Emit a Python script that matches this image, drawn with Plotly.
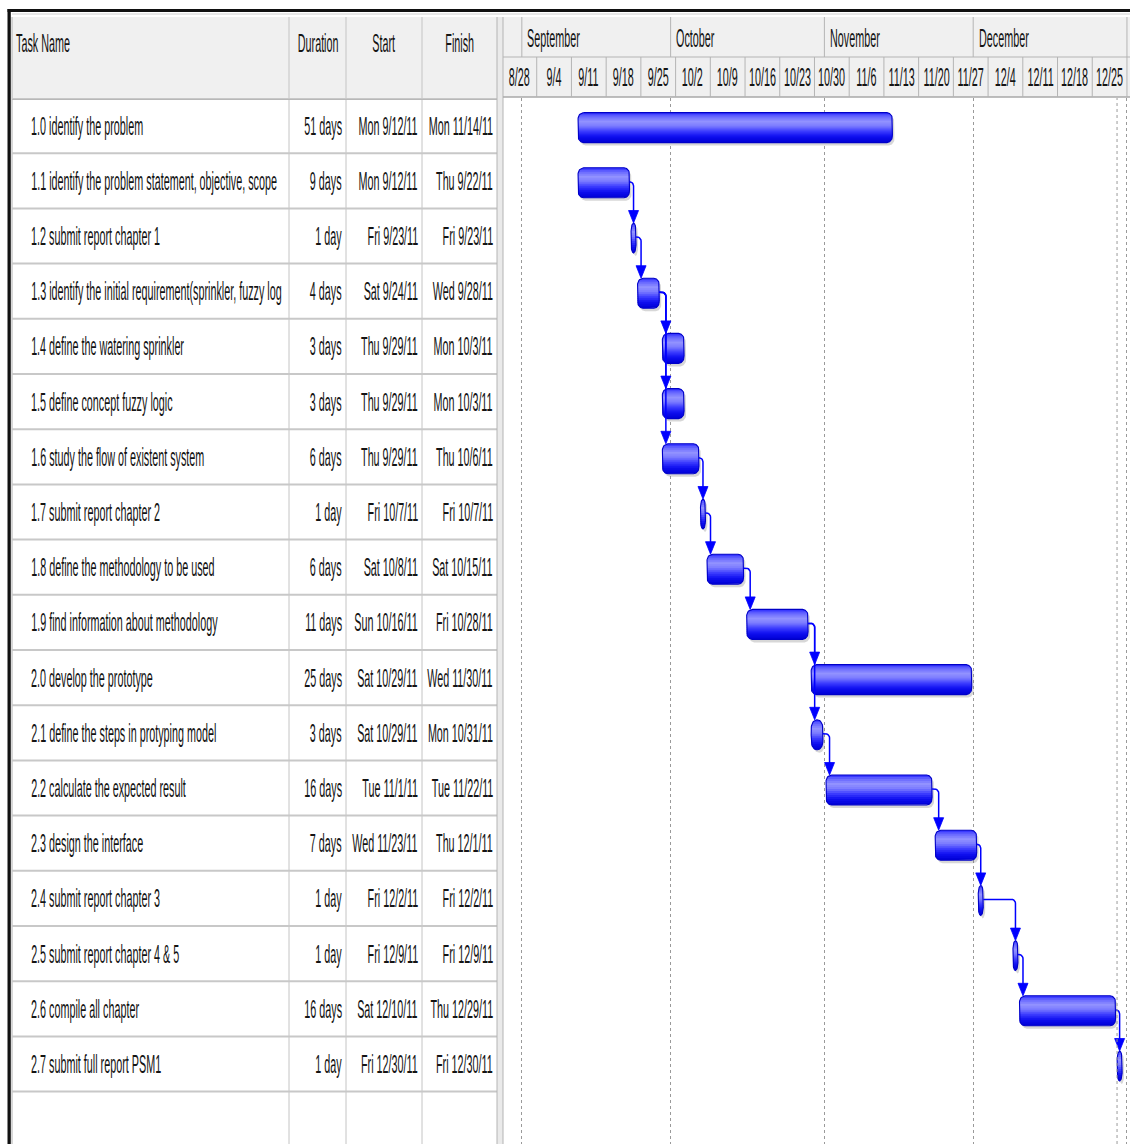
import json
import math
from datetime import datetime
import plotly.graph_objects as go

# ---------------- schedule data ----------------
task_names = [
    "1.0 identify the problem",
    "1.1 identify the problem statement, objective, scope",
    "1.2 submit report chapter 1",
    "1.3 identify the initial requirement(sprinkler, fuzzy log",
    "1.4 define the watering sprinkler",
    "1.5 define concept fuzzy logic",
    "1.6 study the flow of existent system",
    "1.7 submit report chapter 2",
    "1.8 define the methodology to be used",
    "1.9 find information about methodology",
    "2.0 develop the prototype",
    "2.1 define the steps in protyping model",
    "2.2 calculate the expected result",
    "2.3 design the interface",
    "2.4 submit report chapter 3",
    "2.5 submit report chapter 4 & 5",
    "2.6 compile all chapter",
    "2.7 submit full report PSM1",
]
durations = [
    "51 days", "9 days", "1 day", "4 days", "3 days", "3 days", "6 days", "1 day", "6 days",
    "11 days", "25 days", "3 days", "16 days", "7 days", "1 day", "1 day", "16 days", "1 day",
]
start_labels = [
    "Mon 9/12/11", "Mon 9/12/11", "Fri 9/23/11", "Sat 9/24/11", "Thu 9/29/11", "Thu 9/29/11",
    "Thu 9/29/11", "Fri 10/7/11", "Sat 10/8/11", "Sun 10/16/11", "Sat 10/29/11", "Sat 10/29/11",
    "Tue 11/1/11", "Wed 11/23/11", "Fri 12/2/11", "Fri 12/9/11", "Sat 12/10/11", "Fri 12/30/11",
]
finish_labels = [
    "Mon 11/14/11", "Thu 9/22/11", "Fri 9/23/11", "Wed 9/28/11", "Mon 10/3/11", "Mon 10/3/11",
    "Thu 10/6/11", "Fri 10/7/11", "Sat 10/15/11", "Fri 10/28/11", "Wed 11/30/11", "Mon 10/31/11",
    "Tue 11/22/11", "Thu 12/1/11", "Fri 12/2/11", "Fri 12/9/11", "Thu 12/29/11", "Fri 12/30/11",
]
start_dates = [
    "2011-09-12", "2011-09-12", "2011-09-23", "2011-09-24", "2011-09-29", "2011-09-29",
    "2011-09-29", "2011-10-07", "2011-10-08", "2011-10-16", "2011-10-29", "2011-10-29",
    "2011-11-01", "2011-11-23", "2011-12-02", "2011-12-09", "2011-12-10", "2011-12-30",
]
finish_dates = [
    "2011-11-14", "2011-09-22", "2011-09-23", "2011-09-28", "2011-10-03", "2011-10-03",
    "2011-10-06", "2011-10-07", "2011-10-15", "2011-10-28", "2011-11-30", "2011-10-31",
    "2011-11-22", "2011-12-01", "2011-12-02", "2011-12-09", "2011-12-29", "2011-12-30",
]
# finish-to-start links (predecessor row, successor row)
links = [
    (1, 2), (2, 3), (3, 4), (3, 5), (3, 6), (6, 7), (7, 8), (8, 9), (9, 10), (9, 11),
    (11, 12), (12, 13), (13, 14), (14, 15), (15, 16), (16, 17),
]
column_titles = ["Task Name", "Duration", "Start", "Finish"]
month_labels = ["September", "October", "November", "December"]
month_starts = ["2011-09-01", "2011-10-01", "2011-11-01", "2011-12-01", "2012-01-01"]
week_labels = ["8/28", "9/4", "9/11", "9/18", "9/25", "10/2", "10/9", "10/16", "10/23",
               "10/30", "11/6", "11/13", "11/20", "11/27", "12/4", "12/11", "12/18", "12/25"]
timeline_start = "2011-08-28"
marker_date = "2011-12-30"
WORK_START_H, WORK_END_H = 8, 17

# ---------------- page geometry ----------------
W, H = 1130, 1144
COL_EDGES = [12, 289, 346, 422, 497]
SPLIT_X0, SPLIT_X1 = 497, 503
GANTT_X0, GANTT_X1 = 502, 1130
HEADER_TOP, HEADER_MID, HEADER_BOTTOM = 17, 57, 98
ROW_H = 55.2
PX_PER_DAY = 4.96
BAR_HALF, BAR_DY, MIN_BAR_PX = 15.0, 2.0, 5.0
FONT = "Liberation Sans, Arial, sans-serif"
TXT = "#141414"
FS = 26
TEXT_SQUEEZE = 0.415   # tall, condensed look for the grid text

origin = datetime.fromisoformat(timeline_start)


def to_day(s, hour=0.0):
    return (datetime.fromisoformat(s) - origin).days + hour / 24.0


x_span = (GANTT_X1 - GANTT_X0) / PX_PER_DAY
rows_visible = (H - HEADER_BOTTOM) / ROW_H


def day_to_px(d):
    return GANTT_X0 + d * PX_PER_DAY


def px_to_day(p):
    return (p - GANTT_X0) / PX_PER_DAY


def py_to_row(p):
    return (p - HEADER_BOTTOM) / ROW_H


def row_to_py(r):
    return HEADER_BOTTOM + r * ROW_H


def px(p):
    return p / W


def py(p):
    return 1 - p / H


# ---------------- bar outlines ----------------
def inset(y, y0, y1, rx, ry):
    if y < y0 + ry:
        t = (y0 + ry - y) / ry
    elif y > y1 - ry:
        t = (y - (y1 - ry)) / ry
    else:
        return 0.0
    t = min(1.0, max(0.0, t))
    return rx * (1 - math.sqrt(1 - t * t))


def band(x0, x1, y0, y1, rx, ry, ya, yb, n=6, dx=0.0, dy=0.0):
    ys = [ya + (yb - ya) * k / (n - 1) for k in range(n)]
    left = [(x0 + inset(y, y0, y1, rx, ry) + dx, y + dy) for y in ys]
    right = [(x1 - inset(y, y0, y1, rx, ry) + dx, y + dy) for y in reversed(ys)]
    pts = left + right + [left[0]]
    return [px_to_day(a) for a, _ in pts], [py_to_row(b) for _, b in pts]


bars = []
for i in range(len(task_names)):
    x0 = day_to_px(to_day(start_dates[i], WORK_START_H))
    x1 = day_to_px(to_day(finish_dates[i], WORK_END_H))
    if x1 - x0 < MIN_BAR_PX:
        c = (x0 + x1) / 2
        x0, x1 = c - MIN_BAR_PX / 2, c + MIN_BAR_PX / 2
    yc = row_to_py(i + 0.5) + BAR_DY
    w = x1 - x0
    rx = min(5.5, w / 2)
    ry = 6.5 if w > 12 else 9.0
    bars.append((x0, x1, yc - BAR_HALF, yc + BAR_HALF, rx, ry))

grad_stops = [
    (0.00, (40, 40, 255)),
    (0.12, (100, 100, 255)),
    (0.30, (146, 146, 255)),
    (0.45, (124, 124, 255)),
    (0.62, (62, 62, 255)),
    (0.80, (14, 14, 240)),
    (1.00, (0, 0, 212)),
]


def grad(t):
    for (t0, c0), (t1, c1) in zip(grad_stops[:-1], grad_stops[1:]):
        if t0 <= t <= t1:
            f = (t - t0) / (t1 - t0)
            c = [round(a + (b - a) * f) for a, b in zip(c0, c1)]
            return "rgb(%d,%d,%d)" % tuple(c)
    return "rgb(0,0,212)"


fig = go.Figure()

# soft drop shadow
sx, sy = [], []
for (x0, x1, y0, y1, rx, ry) in bars:
    a, b = band(x0, x1, y0, y1, rx, ry, y0, y1, n=30, dx=2.0, dy=3.0)
    sx += a + [None]
    sy += b + [None]
fig.add_trace(go.Scatter(x=sx, y=sy, mode="lines", fill="toself",
                         fillcolor="rgba(110,110,110,0.28)", line=dict(width=0),
                         hoverinfo="skip", showlegend=False))

# gradient stripes
N_STRIPES = 15
for k in range(N_STRIPES):
    gx, gy = [], []
    for (x0, x1, y0, y1, rx, ry) in bars:
        h = y1 - y0
        ya = y0 + h * k / N_STRIPES
        yb = min(y1, y0 + h * (k + 1) / N_STRIPES + 0.7)
        a, b = band(x0, x1, y0, y1, rx, ry, ya, yb, n=5)
        gx += a + [None]
        gy += b + [None]
    fig.add_trace(go.Scatter(x=gx, y=gy, mode="lines", fill="toself",
                             fillcolor=grad((k + 0.5) / N_STRIPES), line=dict(width=0),
                             hoverinfo="skip", showlegend=False))

# bar outlines
ox, oy = [], []
for (x0, x1, y0, y1, rx, ry) in bars:
    a, b = band(x0, x1, y0, y1, rx, ry, y0, y1, n=40)
    ox += a + [None]
    oy += b + [None]
fig.add_trace(go.Scatter(x=ox, y=oy, mode="lines", line=dict(color="#0000c8", width=1.1),
                         hoverinfo="skip", showlegend=False))

# dependency connectors with arrowheads
ARROW_W, ARROW_H, BEND = 10.0, 12.5, 4.0
cx, cy, ax, ay = [], [], [], []
for p, s in links:
    p0, p1, q0, q1, _, _ = bars[p]
    s0, s1, t0, _, _, _ = bars[s]
    yline = (q0 + q1) / 2 - 1
    vx = s0 + min(3.5, (s1 - s0) / 2)
    if vx < p1 + 3:
        vx = p1 + 3
    pts = [(p1, yline), (vx - BEND, yline)]
    for j in range(1, 6):
        ang = (math.pi / 2) * j / 5
        pts.append((vx - BEND + BEND * math.sin(ang), yline + BEND * (1 - math.cos(ang))))
    pts.append((vx, t0 - ARROW_H + 1))
    cx += [px_to_day(a) for a, _ in pts] + [None]
    cy += [py_to_row(b) for _, b in pts] + [None]
    tri = [(vx - ARROW_W / 2, t0 - ARROW_H), (vx + ARROW_W / 2, t0 - ARROW_H), (vx, t0),
           (vx - ARROW_W / 2, t0 - ARROW_H)]
    ax += [px_to_day(a) for a, _ in tri] + [None]
    ay += [py_to_row(b) for _, b in tri] + [None]
fig.add_trace(go.Scatter(x=cx, y=cy, mode="lines", line=dict(color="#0000ff", width=1.5),
                         hoverinfo="skip", showlegend=False))
fig.add_trace(go.Scatter(x=ax, y=ay, mode="lines", fill="toself", fillcolor="#0000ff",
                         line=dict(color="#0000ff", width=0.8),
                         hoverinfo="skip", showlegend=False))

# ---------------- table, header and frame ----------------
shapes = []
ann = []
GRID = "#c4c4c4"


def rect(x0, y0, x1, y1, fill, line=None, layer="below"):
    shapes.append(dict(type="rect", xref="paper", yref="paper", x0=px(x0), x1=px(x1),
                       y0=py(y1), y1=py(y0), fillcolor=fill,
                       line=dict(width=0) if line is None else line, layer=layer))


def pline(x0, y0, x1, y1, color, width=1, dash=None, layer="below"):
    ln = dict(color=color, width=width)
    if dash:
        ln["dash"] = dash
    shapes.append(dict(type="line", xref="paper", yref="paper", x0=px(x0), x1=px(x1),
                       y0=py(y0), y1=py(y1), line=ln, layer=layer))


# header backgrounds
rect(COL_EDGES[0], HEADER_TOP, COL_EDGES[-1], HEADER_BOTTOM, "#f0f0f0")
rect(SPLIT_X1, HEADER_TOP, W, HEADER_BOTTOM - 1, "#f0f0f0")

# table grid
for xe in COL_EDGES[1:-1]:
    pline(xe, HEADER_TOP, xe, H, GRID)
pline(COL_EDGES[0], HEADER_TOP, COL_EDGES[0], H, "#b0b0b0")
for k in range(len(task_names) + 1):
    shapes.append(dict(type="line", xref="paper", yref="y", x0=px(COL_EDGES[0]), x1=px(COL_EDGES[-1]),
                       y0=k, y1=k, line=dict(color="#c8c8c8", width=2), layer="below"))
pline(COL_EDGES[0], HEADER_BOTTOM + 1.5, COL_EDGES[-1], HEADER_BOTTOM + 1.5, "#b8b8b8", 1)

# split bar between table and timeline
rect(SPLIT_X0, HEADER_TOP, SPLIT_X1, H, "#eaeaea")
pline(SPLIT_X0, HEADER_TOP, SPLIT_X0, H, "#b4b4b4")
pline(SPLIT_X1, HEADER_TOP, SPLIT_X1, H, "#b4b4b4")

# timeline header grid
pline(SPLIT_X1, HEADER_MID, W, HEADER_MID, "#b4b4b4")
pline(SPLIT_X1, HEADER_BOTTOM - 1, W, HEADER_BOTTOM - 1, "#a8a8a8", 1.5)
month_days = [to_day(m) for m in month_starts]
for d in month_days:
    shapes.append(dict(type="line", xref="x", yref="paper", x0=d, x1=d,
                       y0=py(HEADER_MID), y1=py(HEADER_TOP), line=dict(color="#b4b4b4", width=1)))
for k in range(1, len(week_labels) + 1):
    d = 7 * k
    shapes.append(dict(type="line", xref="x", yref="paper", x0=d, x1=d,
                       y0=py(HEADER_BOTTOM - 1), y1=py(HEADER_MID), line=dict(color="#b4b4b4", width=1)))

# marker line at the final deliverable date
md = to_day(marker_date)
shapes.append(dict(type="line", xref="x", yref="paper", x0=md, x1=md, y0=0, y1=py(HEADER_BOTTOM),
                   line=dict(color="#9a9a9a", width=1, dash="3px,3px")))

# outer frame
rect(7.5, 9, W, 12, "#111111", layer="above")
pline(12, 14, W, 14, "#d0d0d0")
rect(7.5, 9, 10.8, H, "#111111", layer="above")

# ---------------- text ----------------
anchors = []


def text(x, y, s, xanchor, xref="paper", yref="paper"):
    ann.append(dict(x=x, y=y, xref=xref, yref=yref, text=s, showarrow=False,
                    xanchor=xanchor, yanchor="middle",
                    font=dict(family=FONT, size=FS, color=TXT)))
    anchors.append(xanchor)


text(px(14), py(43), column_titles[0], "left")
text(px((COL_EDGES[1] + COL_EDGES[2]) / 2), py(43), column_titles[1], "center")
text(px((COL_EDGES[2] + COL_EDGES[3]) / 2), py(43), column_titles[2], "center")
text(px((COL_EDGES[3] + COL_EDGES[4]) / 2), py(43), column_titles[3], "center")

for i in range(len(task_names)):
    yc = i + 0.5
    text(px(29), yc, task_names[i], "left", yref="y")
    text(px(COL_EDGES[2] - 2), yc, durations[i], "right", yref="y")
    text(px(COL_EDGES[3] - 2), yc, start_labels[i], "right", yref="y")
    text(px(COL_EDGES[4] - 2), yc, finish_labels[i], "right", yref="y")

for lab, d in zip(month_labels, month_days):
    text(d + 3.5 / PX_PER_DAY, py(38), lab, "left", xref="x")
for k, lab in enumerate(week_labels):
    text(7 * k + 3.5, py(77), lab, "center", xref="x")

fig.update_layout(
    width=W, height=H, autosize=False,
    margin=dict(l=0, r=0, t=0, b=0, pad=0),
    paper_bgcolor="white", plot_bgcolor="white",
    showlegend=False,
    shapes=shapes, annotations=ann,
    xaxis=dict(domain=[px(GANTT_X0), 1.0], range=[0, x_span], showticklabels=False,
               ticks="", tickvals=month_days, showgrid=True, gridcolor="#9a9a9a",
               gridwidth=1, griddash="3px,3px", zeroline=False, showline=False, fixedrange=True),
    yaxis=dict(domain=[0, py(HEADER_BOTTOM)], range=[rows_visible, 0], showticklabels=False,
               ticks="", showgrid=False, zeroline=False, showline=False, fixedrange=True),
)

# narrow the grid text horizontally, keeping each label's anchored edge in place
squeeze_js = """
var gd = document.getElementById('{plot_id}');
var anchors = %s;
gd.querySelectorAll('g.annotation').forEach(function (g) {
  var idx = parseInt(g.getAttribute('data-index'), 10);
  var t = g.querySelector('text.annotation-text');
  if (!t) { return; }
  var a = anchors[idx] || 'center';
  t.style.transformBox = 'fill-box';
  t.style.transformOrigin = a + ' center';
  t.style.transform = 'scaleX(%s)';
});
""" % (json.dumps(anchors), TEXT_SQUEEZE)

fig.write_html("out.html", post_script=squeeze_js)
